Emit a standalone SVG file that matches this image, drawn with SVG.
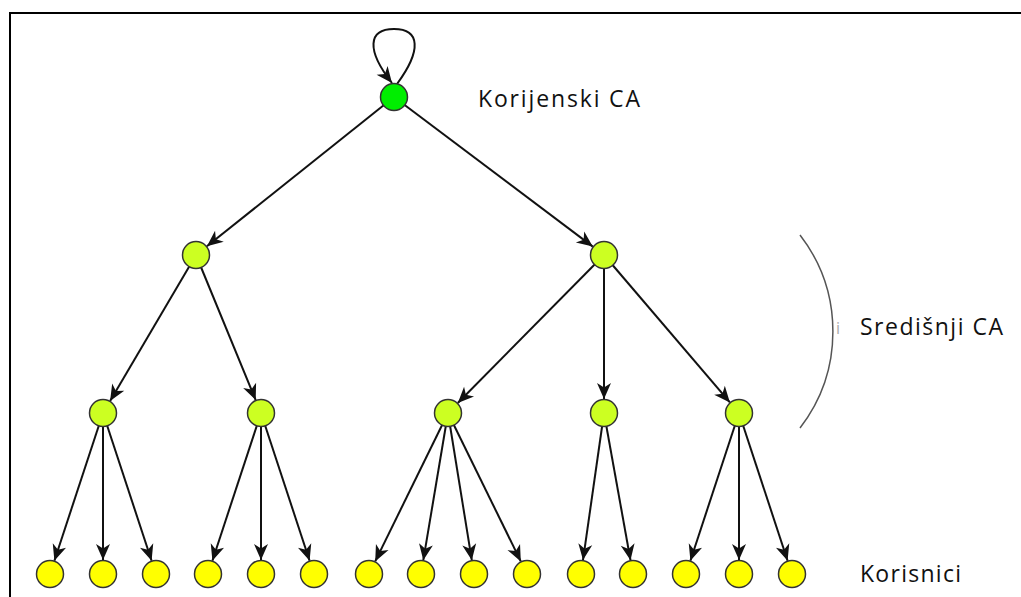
<svg xmlns="http://www.w3.org/2000/svg" width="1021" height="597" viewBox="0 0 1021 597">
<style>
.edge{stroke:#111;stroke-width:2;fill:none;marker-end:url(#arr)}
.root{fill:#00ee00;stroke:#333;stroke-width:1.5}
.mid{fill:#ccff22;stroke:#333;stroke-width:1.5}
.leaf{fill:#ffff00;stroke:#333;stroke-width:1.5}
.lbl{font-family:"Open Sans","DejaVu Sans",sans-serif;font-size:23px;fill:#111}
</style>
<defs>
<marker id="arr" viewBox="-17 -8 18 16" markerWidth="18" markerHeight="16" refX="0" refY="0" orient="auto" markerUnits="userSpaceOnUse">
<path d="M0,0 L-16,-7 L-11.5,0 L-16,7 Z" fill="#111"/>
</marker>
</defs>
<rect width="1021" height="597" fill="#fff"/>
<path d="M10,597 L10,13 L1021,13" fill="none" stroke="#000" stroke-width="2"/>
<g id="connectors">
<path class="edge" d="M397,84 C422,50 420,29 394,29 C368,29 366,50 392,83"/>
<line class="edge" x1="394" y1="97" x2="206.9" y2="246.3"/>
<line class="edge" x1="394" y1="97" x2="592.8" y2="246.6"/>
<line class="edge" x1="196" y1="255" x2="110.1" y2="400.9"/>
<line class="edge" x1="196" y1="255" x2="255.7" y2="400.1"/>
<line class="edge" x1="604" y1="255" x2="457.8" y2="403"/>
<line class="edge" x1="604" y1="255" x2="604" y2="399"/>
<line class="edge" x1="604" y1="255" x2="729.9" y2="402.4"/>
<line class="edge" x1="103" y1="413" x2="54.4" y2="560.7"/>
<line class="edge" x1="103" y1="413" x2="103" y2="560"/>
<line class="edge" x1="103" y1="413" x2="151.6" y2="560.7"/>
<line class="edge" x1="261" y1="413" x2="212.4" y2="560.7"/>
<line class="edge" x1="261" y1="413" x2="261" y2="560"/>
<line class="edge" x1="261" y1="413" x2="309.6" y2="560.7"/>
<line class="edge" x1="448" y1="413" x2="375.2" y2="561.4"/>
<line class="edge" x1="448" y1="413" x2="423.3" y2="560.2"/>
<line class="edge" x1="448" y1="413" x2="471.8" y2="560.2"/>
<line class="edge" x1="448" y1="413" x2="520.8" y2="561.4"/>
<line class="edge" x1="604" y1="413" x2="583" y2="560.1"/>
<line class="edge" x1="604" y1="413" x2="630.5" y2="560.2"/>
<line class="edge" x1="739" y1="413" x2="690.4" y2="560.7"/>
<line class="edge" x1="739" y1="413" x2="739" y2="560"/>
<line class="edge" x1="739" y1="413" x2="787.6" y2="560.7"/>
</g>
<g id="root"><circle class="root" cx="394" cy="97" r="13.5"/></g>
<g id="m1"><circle class="mid" cx="196" cy="255" r="13.5"/></g>
<g id="m2"><circle class="mid" cx="604" cy="255" r="13.5"/></g>
<g id="m3"><circle class="mid" cx="103" cy="413" r="13.5"/></g>
<g id="m4"><circle class="mid" cx="261" cy="413" r="13.5"/></g>
<g id="m5"><circle class="mid" cx="448" cy="413" r="13.5"/></g>
<g id="m6"><circle class="mid" cx="604" cy="413" r="13.5"/></g>
<g id="m7"><circle class="mid" cx="739" cy="413" r="13.5"/></g>
<g id="u1"><circle class="leaf" cx="50" cy="574" r="13.5"/></g>
<g id="u2"><circle class="leaf" cx="103" cy="574" r="13.5"/></g>
<g id="u3"><circle class="leaf" cx="156" cy="574" r="13.5"/></g>
<g id="u4"><circle class="leaf" cx="208" cy="574" r="13.5"/></g>
<g id="u5"><circle class="leaf" cx="261" cy="574" r="13.5"/></g>
<g id="u6"><circle class="leaf" cx="314" cy="574" r="13.5"/></g>
<g id="u7"><circle class="leaf" cx="369" cy="574" r="13.5"/></g>
<g id="u8"><circle class="leaf" cx="421" cy="574" r="13.5"/></g>
<g id="u9"><circle class="leaf" cx="474" cy="574" r="13.5"/></g>
<g id="u10"><circle class="leaf" cx="527" cy="574" r="13.5"/></g>
<g id="u11"><circle class="leaf" cx="581" cy="574" r="13.5"/></g>
<g id="u12"><circle class="leaf" cx="633" cy="574" r="13.5"/></g>
<g id="u13"><circle class="leaf" cx="686" cy="574" r="13.5"/></g>
<g id="u14"><circle class="leaf" cx="739" cy="574" r="13.5"/></g>
<g id="u15"><circle class="leaf" cx="792" cy="574" r="13.5"/></g>
<g id="labels">
<text class="lbl" x="478" y="107" textLength="162" lengthAdjust="spacing">Korijenski CA</text>
<path d="M800,235 A158,158 0 0 1 800,428" fill="none" stroke="#555" stroke-width="1.5"/>
<text x="836" y="334" font-family="'Open Sans','DejaVu Sans',sans-serif" font-size="16" fill="#aaa">i</text>
<text class="lbl" x="860" y="335" textLength="143" lengthAdjust="spacing">Središnji CA</text>
<text class="lbl" x="860" y="582" textLength="101" lengthAdjust="spacing">Korisnici</text>
</g>
</svg>
